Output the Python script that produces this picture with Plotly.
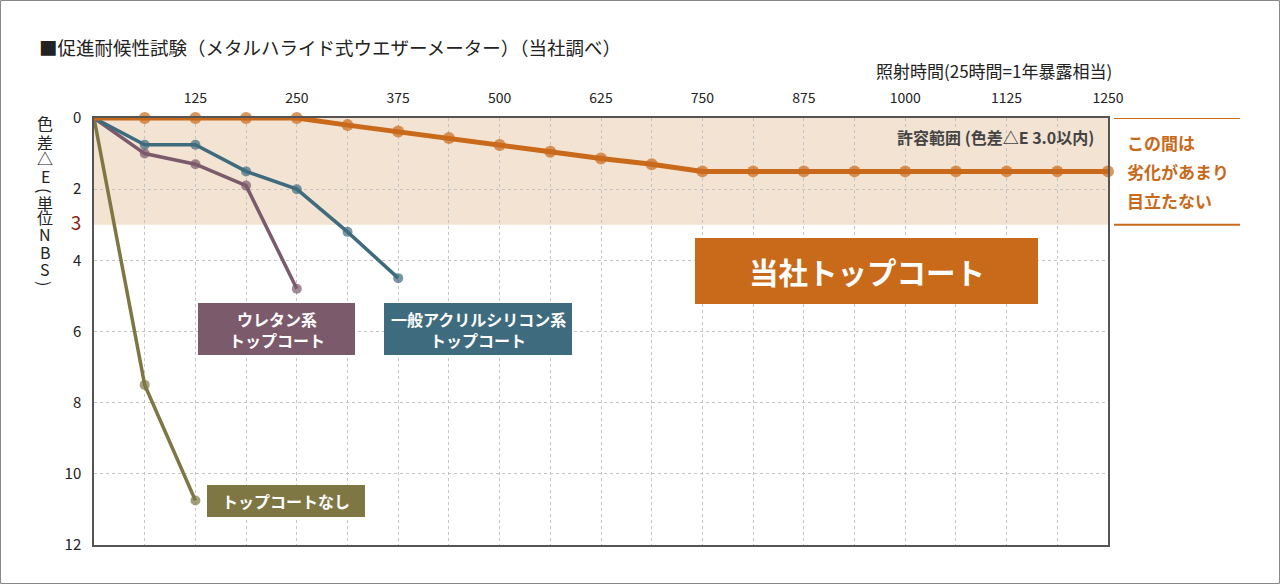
import plotly.graph_objects as go

# ---- data ----
hours = [0, 62.5, 125, 187.5, 250, 312.5, 375, 437.5, 500, 562.5, 625, 687.5,
         750, 812.5, 875, 937.5, 1000, 1062.5, 1125, 1187.5, 1250]
ours = [0, 0, 0, 0, 0, 0.2, 0.38, 0.56, 0.76, 0.95, 1.14, 1.3,
        1.5, 1.5, 1.5, 1.5, 1.5, 1.5, 1.5, 1.5, 1.5]
acryl_hours = [0, 62.5, 125, 187.5, 250, 312.5, 375]
acryl = [0, 0.75, 0.75, 1.5, 2.0, 3.2, 4.5]
urethane_hours = [0, 62.5, 125, 187.5, 250]
urethane = [0, 1.0, 1.3, 1.9, 4.8]
none_hours = [0, 62.5, 125]
none_vals = [0, 7.5, 10.75]

x_tickvals = [i * 62.5 for i in range(21)]
x_ticktext = [str(int(v)) if (i % 2 == 0 and i > 0) else "" for i, v in enumerate(x_tickvals)]
y_tickvals = [0, 2, 3, 4, 6, 8, 10, 12]
y_ticktext = ["0", "2", '<span style="color:#8B2318;font-size:19px">3</span>', "4", "6", "8", "10", "12"]
y_gridvals = [2, 4, 6, 8, 10]
tolerance = 3

C_OURS = "#C96A1B"
C_ACRYL = "#3E6B7D"
C_URE = "#7B5A6B"
C_NONE = "#7E7744"
FONT = "Noto Sans CJK JP"

W, H = 1280, 584
L, R, T, B = 94, 172, 118, 39
pw, ph = W - L - R, H - T - B


def px_x(px):  # page pixel -> paper x
    return (px - L) / pw


def px_y(py):  # page pixel -> paper y
    return (H - B - py) / ph


fig = go.Figure()


def msizes(n, s):
    return [0] + [s] * (n - 1)


for xs, ys, col, lw, ms in [
    (none_hours, none_vals, C_NONE, 3.5, 10),
    (urethane_hours, urethane, C_URE, 3.5, 10),
    (acryl_hours, acryl, C_ACRYL, 3.5, 10),
    (hours, ours, C_OURS, 5, 12),
]:
    fig.add_trace(go.Scatter(x=xs, y=ys, mode="lines+markers",
                             line=dict(color=col, width=lw),
                             marker=dict(color=col, size=msizes(len(xs), ms),
                                         line=dict(width=0)),
                             cliponaxis=False, showlegend=False, hoverinfo="skip"))

# tolerance band
fig.add_shape(type="rect", xref="x", yref="y", x0=0, x1=1250, y0=0, y1=tolerance,
              fillcolor="#F3E3D2", line_width=0, layer="below")

# right-side orange rules
fig.add_shape(type="line", xref="paper", yref="y", x0=px_x(1114), x1=px_x(1240), y0=0, y1=0,
              line=dict(color=C_OURS, width=2))
fig.add_shape(type="line", xref="paper", yref="y", x0=px_x(1114), x1=px_x(1240),
              y0=tolerance, y1=tolerance, line=dict(color=C_OURS, width=2))

# outer border
fig.add_shape(type="rect", xref="paper", yref="paper",
              x0=px_x(0.5), x1=px_x(W - 0.5), y0=px_y(H - 0.5), y1=px_y(0.5),
              line=dict(color="#888888", width=1), fillcolor="rgba(0,0,0,0)")


def box(lines, x0, x1, y0, y1, color, size=16, spacing=21):
    fig.add_shape(type="rect", xref="paper", yref="paper",
                  x0=px_x(x0), x1=px_x(x1), y0=px_y(y1), y1=px_y(y0),
                  fillcolor=color, line_width=0)
    cy = (y0 + y1) / 2
    n = len(lines)
    for i, t in enumerate(lines):
        yy = cy + (i - (n - 1) / 2) * spacing
        fig.add_annotation(x=px_x((x0 + x1) / 2), y=px_y(yy), xref="paper", yref="paper",
                           text=f"<b>{t}</b>", showarrow=False,
                           xanchor="center", yanchor="middle",
                           font=dict(family=FONT, size=size, color="white"))


box(["ウレタン系", "トップコート"], 198, 355, 303, 355, C_URE)
box(["一般アクリルシリコン系", "トップコート"], 384, 572, 303, 355, C_ACRYL)
box(["トップコートなし"], 207, 365, 485, 517, C_NONE)
box(["当社トップコート"], 695, 1038, 238, 304, C_OURS, size=29.5)

fig.add_annotation(x=px_x(1096), y=px_y(137), xref="paper", yref="paper", xanchor="right",
                   yanchor="middle",
                   text="<b>許容範囲 (色差△E 3.0以内)</b>", showarrow=False,
                   font=dict(family=FONT, size=16, color="#444444"))

for i, line in enumerate(["この間は", "劣化があまり", "目立たない"]):
    fig.add_annotation(x=px_x(1125), y=px_y(143 + 28.5 * i), xref="paper", yref="paper",
                       xanchor="left", yanchor="middle", text=f"<b>{line}</b>", showarrow=False,
                       font=dict(family=FONT, size=17, color=C_OURS))

# title
fig.add_annotation(x=px_x(37), y=px_y(47), xref="paper", yref="paper",
                   xanchor="left", yanchor="middle", showarrow=False,
                   text="■促進耐候性試験（メタルハライド式ウエザーメーター）（当社調べ）",
                   font=dict(family=FONT, size=18.5, color="#222222"))
# x axis title
fig.add_annotation(x=px_x(1114), y=px_y(70), xref="paper", yref="paper",
                   xanchor="right", yanchor="middle", showarrow=False,
                   text="照射時間(25時間=1年暴露相当)",
                   font=dict(family=FONT, size=17, color="#222222"))
# y axis title (vertical, one glyph per row; parentheses turned sideways)
ytitle_chars = ["色", "差", "△", "E", "(", "単", "位", "N", "B", "S", ")"]
ytitle_rows = [123, 142, 158, 176, 190, 203, 217, 234, 252, 269, 283]
for ch, ry in zip(ytitle_chars, ytitle_rows):
    fig.add_annotation(x=px_x(45), y=px_y(ry), xref="paper", yref="paper",
                       xanchor="center", yanchor="middle", showarrow=False,
                       textangle=90 if ch in "()" else 0,
                       text=ch, font=dict(family=FONT, size=16, color="#222222"))

fig.update_xaxes(range=[0, 1250], side="top", tickvals=x_tickvals, ticktext=x_ticktext,
                 showgrid=True, gridcolor="#C4C4C4", griddash="dot", gridwidth=1,
                 showline=True, linecolor="#555555", linewidth=1.5, mirror=True,
                 ticks="", zeroline=False, ticklabelstandoff=8,
                 tickfont=dict(family=FONT, size=14, color="#222222"))
fig.update_yaxes(range=[12, 0], tickvals=y_tickvals, ticktext=y_ticktext,
                 showgrid=False, zeroline=False,
                 minor=dict(tickvals=y_gridvals, showgrid=True, gridcolor="#C4C4C4",
                            griddash="dot", gridwidth=1, ticks=""),
                 showline=True, linecolor="#555555", linewidth=1.5, mirror=True,
                 ticks="", ticklabelstandoff=8,
                 tickfont=dict(family=FONT, size=15, color="#222222"))

fig.update_layout(width=W, height=H, margin=dict(l=L, r=R, t=T, b=B),
                  plot_bgcolor="white", paper_bgcolor="white",
                  font=dict(family=FONT))

fig.write_html("out.html", config={"displayModeBar": False},
               post_script="document.body.style.margin='0';")
